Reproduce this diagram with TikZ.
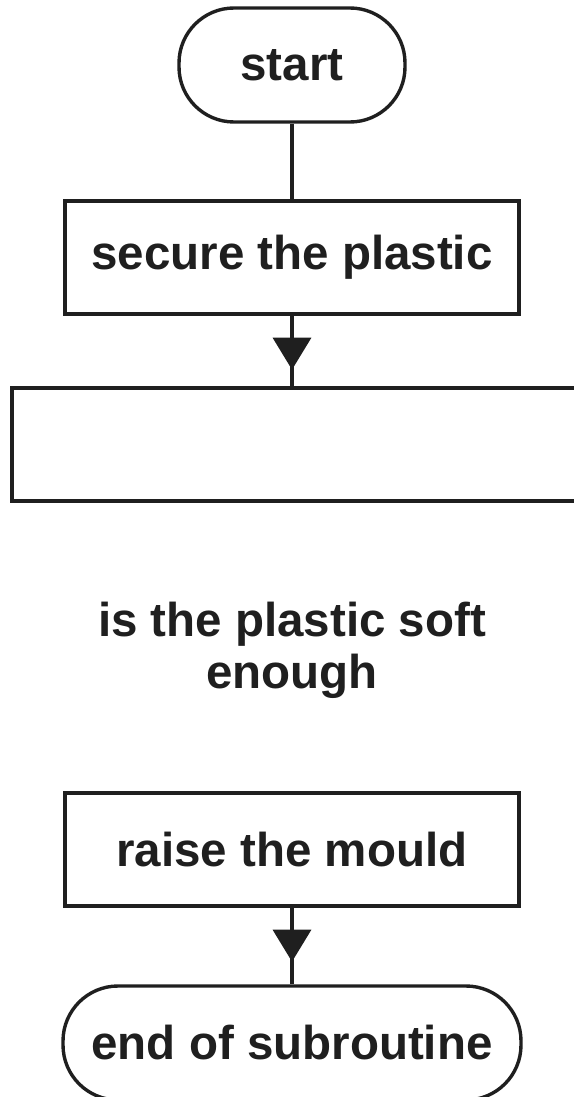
\documentclass[tikz,border=0pt]{standalone}
\usepackage{fontspec}
\setmainfont{Liberation Sans}
\usetikzlibrary{arrows.meta,decorations.markings}

\tikzset{
  ink/.style={draw=black!88, line width=3.4pt},
  label/.style={font=\fontsize{47.5}{52}\selectfont\bfseries, text=black!88, inner sep=0pt},
  terminal/.style={ink, label, rounded corners=55pt, minimum height=114pt},
  process/.style={ink, label, rectangle, minimum height=113pt},
  flow/.style={ink},
  flowarrow/.style={ink, postaction={decorate},
    decoration={markings, mark=at position 54pt with {\arrow{Triangle[width=38pt,length=32pt]}}}}
}

\begin{document}
\begin{tikzpicture}[x=1pt, y=-1pt]
  \useasboundingbox (0,0) rectangle (573,1097);

  % terminals and process boxes
  \node[terminal, minimum width=226pt] (start) at (292,65) {start};
  \node[process, minimum width=454pt] (secure) at (292,257.5) {secure the plastic};
  \node[process, minimum width=588pt] (heat) at (306,444.5) {};
  \node[label, align=center] (soft) at (292,650) {is the plastic soft\\enough};
  \node[process, minimum width=454pt] (raise) at (292,849.5) {raise the mould};
  \node[terminal, minimum width=458pt] (finish) at (292,1043) {end of subroutine};

  % connectors
  \draw[flow] (start.south) -- (secure.north);
  \draw[flowarrow] (secure.south) -- (secure.south |- heat.north);
  \draw[flowarrow] (raise.south) -- (finish.north);
\end{tikzpicture}
\end{document}
